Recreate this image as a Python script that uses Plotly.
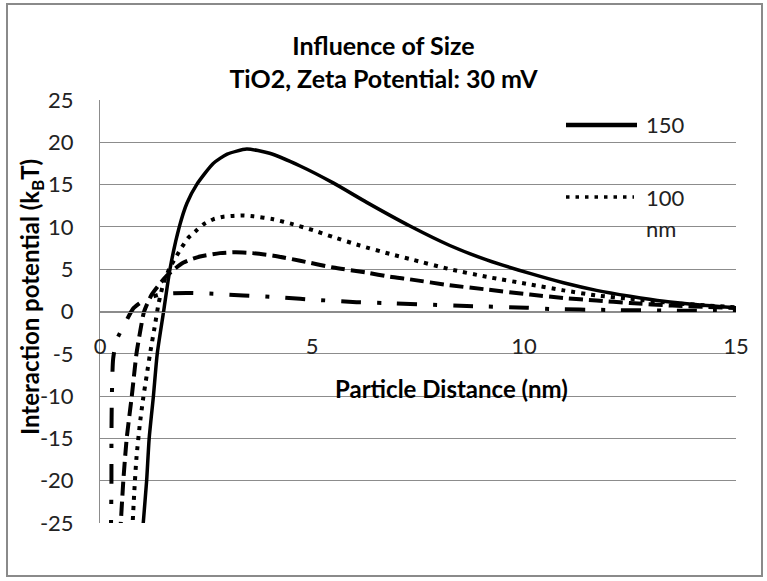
import plotly.graph_objects as go

# ---- data ----
x_150 = [1.00, 1.02, 1.10, 1.16, 1.26, 1.35, 1.50, 1.65, 1.87, 2.05, 2.28, 2.67, 3.00, 3.46, 4.00, 4.72,
         5.50, 6.29, 7.31, 8.25, 9.12, 10.14, 10.93, 11.71, 12.50, 13.30, 14.10, 15.00]
y_150 = [-26.5, -25.0, -20.0, -15.0, -10.0, -5.0, 0.0, 5.0, 10.0, 12.8, 15.0, 17.5, 18.6, 19.2, 18.7, 17.2,
         15.2, 12.9, 10.1, 7.8, 6.1, 4.5, 3.4, 2.5, 1.8, 1.2, 0.8, 0.45]

x_100 = [0.75, 0.77, 0.81, 0.86, 0.94, 1.02, 1.10, 1.18, 1.30, 1.38, 1.50, 1.65, 1.81, 1.93, 2.08, 2.28,
         2.44, 2.67, 2.91, 3.14, 3.38, 3.62, 4.09, 4.56, 5.03, 5.50, 6.13, 6.84, 7.31, 8.25, 9.12, 10.14,
         10.93, 11.71, 12.50, 13.50, 15.00]
y_100 = [-27.0, -25.0, -21.2, -17.3, -13.3, -10.2, -7.6, -5.0, -1.5, 0.9, 3.4, 5.2, 6.6, 7.6, 8.7, 9.6,
         10.3, 10.9, 11.2, 11.3, 11.35, 11.25, 10.9, 10.3, 9.6, 8.8, 7.8, 6.8, 6.2, 5.0, 4.1, 3.2,
         2.5, 1.9, 1.5, 1.0, 0.5]

x_50 = [0.47, 0.49, 0.55, 0.63, 0.75, 0.86, 0.95, 1.04, 1.22, 1.40, 1.57, 1.75, 1.97, 2.36, 2.83, 3.20,
        3.60, 4.09, 4.72, 5.50, 6.29, 6.84, 7.31, 8.25, 9.12, 10.14, 10.93, 11.71, 12.50, 13.50, 15.00]
y_50 = [-26.5, -25.0, -20.0, -15.0, -10.0, -5.0, -2.3, 0.0, 2.0, 3.2, 4.2, 5.0, 5.8, 6.5, 6.9, 7.0,
        6.9, 6.6, 6.0, 5.2, 4.6, 4.1, 3.8, 3.1, 2.6, 2.0, 1.6, 1.3, 1.0, 0.7, 0.4]

x_20 = [0.25, 0.26, 0.27, 0.27, 0.28, 0.31, 0.39, 0.59, 0.79, 1.00, 1.22, 1.40, 1.70, 2.04, 2.67, 3.38,
        4.00, 4.72, 6.05, 6.70, 8.65, 10.06, 10.60, 12.00, 13.50, 15.00]
y_20 = [-27.0, -25.0, -20.0, -15.0, -10.0, -5.6, -3.4, -1.4, 0.4, 1.2, 1.7, 2.0, 2.15, 2.2, 2.1, 1.9,
        1.75, 1.5, 1.1, 1.0, 0.65, 0.45, 0.3, 0.18, 0.1, 0.05]

x_ticks = [0, 5, 10, 15]
y_ticks = [25, 20, 15, 10, 5, 0, -5, -10, -15, -20, -25]

title_text = "Influence of Size<br>TiO2, Zeta Potential: 30 mV"
x_title = "Particle Distance (nm)"
y_title = "Interaction potential (k<sub>B</sub>T)"
legend_labels = ["150", "100", "nm"]

FONT = "Lato, 'Open Sans', sans-serif"
GRID = "#8c8c8c"

fig = go.Figure()
series = [
    ("150 nm", x_150, y_150, "solid", 3.5),
    ("100 nm", x_100, y_100, "4px,6px", 4),
    ("50 nm", x_50, y_50, "14px,6px", 4),
    ("20 nm", x_20, y_20, "20px,16px,4px,16px", 4),
]
for name, xs, ys, dash, w in series:
    fig.add_trace(go.Scatter(
        x=xs, y=ys, mode="lines", name=name, showlegend=False,
        line=dict(color="black", width=w, dash=dash, shape="spline", smoothing=0.6),
        hoverinfo="skip",
    ))

# plot area in px: x 100..736, y 100..523
PL, PR, PT, PB = 100, 736, 100, 523
def px_x(p):
    return (p - PL) / (PR - PL)
def px_y(p):
    return (PB - p) / (PB - PT)

shapes = []
# outer chart border
shapes.append(dict(type="rect", xref="paper", yref="paper",
                   x0=px_x(7), x1=px_x(762), y0=px_y(576), y1=px_y(4),
                   line=dict(color="#8a8a8a", width=2), fillcolor="rgba(0,0,0,0)", layer="below"))
# legend box (white, covers gridlines)
shapes.append(dict(type="rect", xref="paper", yref="paper",
                   x0=px_x(558), x1=px_x(692), y0=px_y(240), y1=px_y(106),
                   line=dict(width=0), fillcolor="white", layer="between"))
# x-axis title background
shapes.append(dict(type="rect", xref="paper", yref="paper",
                   x0=px_x(323), x1=px_x(583), y0=px_y(406), y1=px_y(372),
                   line=dict(width=0), fillcolor="white", layer="between"))
# legend samples
shapes.append(dict(type="line", xref="paper", yref="paper",
                   x0=px_x(566), x1=px_x(637), y0=px_y(125), y1=px_y(125),
                   line=dict(color="black", width=4.5), layer="above"))
shapes.append(dict(type="line", xref="paper", yref="paper",
                   x0=px_x(566), x1=px_x(634), y0=px_y(197), y1=px_y(197),
                   line=dict(color="black", width=3.5, dash="3.5px,6px"), layer="above"))

annotations = [
    dict(text=x_title, xref="paper", yref="paper", x=px_x(451), y=px_y(388),
         showarrow=False, xanchor="center", yanchor="middle",
         font=dict(family=FONT, size=24, color="black", weight="bold")),
    dict(text=y_title, xref="paper", yref="paper", x=px_x(31), y=px_y(297),
         showarrow=False, xanchor="center", yanchor="middle", textangle=-90,
         font=dict(family=FONT, size=24, color="black", weight="bold")),
    dict(text=legend_labels[0], xref="paper", yref="paper", x=px_x(644), y=px_y(125),
         showarrow=False, xanchor="left", yanchor="middle",
         font=dict(family=FONT, size=22, color="#222")),
    dict(text=legend_labels[1], xref="paper", yref="paper", x=px_x(644), y=px_y(197),
         showarrow=False, xanchor="left", yanchor="middle",
         font=dict(family=FONT, size=22, color="#222")),
    dict(text=legend_labels[2], xref="paper", yref="paper", x=px_x(644), y=px_y(228),
         showarrow=False, xanchor="left", yanchor="middle",
         font=dict(family=FONT, size=22, color="#222")),
]

fig.update_layout(
    width=767, height=581,
    margin=dict(l=PL, r=767 - PR, t=PT, b=581 - PB, pad=0),
    paper_bgcolor="white", plot_bgcolor="white",
    title=dict(text=title_text, x=0.5, xref="container", xanchor="center",
               y=1 - 55 / 581, yref="container", yanchor="middle",
               font=dict(family=FONT, size=25, color="black", weight="bold")),
    shapes=shapes, annotations=annotations,
    showlegend=False,
    xaxis=dict(range=[0, 15], tickvals=x_ticks, ticktext=[str(v) for v in x_ticks],
               showgrid=False, zeroline=False, anchor="free", position=0.5,
               showline=True, linecolor=GRID, linewidth=1,
               ticks="outside", ticklen=15, tickcolor="rgba(0,0,0,0)",
               tickfont=dict(family=FONT, size=22, color="#222")),
    yaxis=dict(range=[-25, 25], tickvals=y_ticks, ticktext=[str(v) for v in y_ticks],
               showgrid=True, gridcolor=GRID, gridwidth=1,
               zeroline=True, zerolinecolor=GRID, zerolinewidth=1,
               showline=True, linecolor=GRID, linewidth=1,
               ticks="outside", ticklen=21, tickcolor="rgba(0,0,0,0)",
               tickfont=dict(family=FONT, size=22, color="#222")),
)

fig.write_html("out.html",
               config={"displayModeBar": False},
               post_script="document.body.style.margin='0';document.body.style.overflow='hidden';")
